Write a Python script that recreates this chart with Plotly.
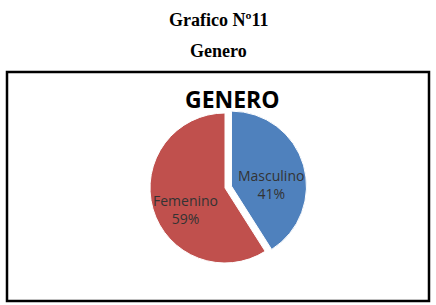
import math
import plotly.graph_objects as go

labels = ["Masculino", "Femenino"]
values = [41, 59]
colors = ["#4F81BD", "#C0504D"]
pulls = [0.09, 0]

W, H = 436, 305
cx, cy, r = 225, 188, 75
half = r * (1 + max(pulls))

fig = go.Figure(go.Pie(
    labels=labels, values=values, sort=False, direction="clockwise", rotation=0,
    pull=pulls, marker=dict(colors=colors, line=dict(color="white", width=1)),
    textinfo="none",
    showlegend=False, hoverinfo="skip",
    domain=dict(x=[(cx - half) / W, (cx + half) / W], y=[(H - cy - half) / H, (H - cy + half) / H]),
))

# data labels placed like Excel's "best fit" inside labels
annotations = []
total = sum(values)
start = 0.0
label_r, label_drop = 0.55, 10
for lab, v, pl in zip(labels, values, pulls):
    mid = (start + v / 2) / total * 2 * math.pi
    start += v
    dx, dy = math.sin(mid), math.cos(mid)
    px = cx + r * pl * dx + r * label_r * dx
    py = cy - r * pl * dy - r * label_r * dy + label_drop
    annotations.append(dict(
        text=f"{lab}<br>{round(100 * v / total)}%", x=px / W, y=1 - py / H,
        xref="paper", yref="paper", xanchor="center", yanchor="middle", showarrow=False,
        font=dict(family="Open Sans", size=14, color="#333333")))

annotations += [
    dict(text="<b>Grafico Nº11</b>", x=0.5, y=1 - 20 / H, xref="paper", yref="paper",
         yanchor="middle", showarrow=False,
         font=dict(family="Liberation Serif", size=18, color="black")),
    dict(text="<b>Genero</b>", x=0.5, y=1 - 51 / H, xref="paper", yref="paper",
         yanchor="middle", showarrow=False,
         font=dict(family="Liberation Serif", size=18, color="black")),
    dict(text="<b>GENERO</b>", x=233 / W, y=1 - 99 / H, xref="paper", yref="paper",
         yanchor="middle", showarrow=False,
         font=dict(family="Open Sans", size=23, color="black")),
]

fig.update_layout(
    width=W, height=H, margin=dict(l=0, r=0, t=0, b=0),
    paper_bgcolor="white", plot_bgcolor="white",
    shapes=[dict(type="rect", xref="paper", yref="paper",
                 x0=7 / W, x1=429 / W, y0=(H - 301) / H, y1=(H - 72) / H,
                 line=dict(color="black", width=2.5))],
    annotations=annotations,
)

fig.write_html("out.html")
